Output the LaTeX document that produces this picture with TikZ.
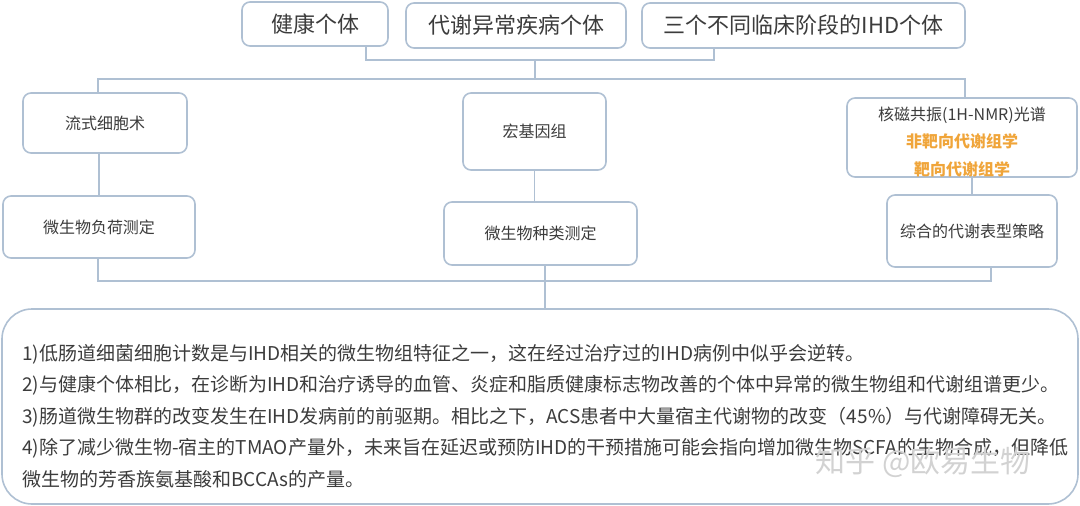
\documentclass[tikz,border=0pt]{standalone}
\usepackage{fontspec}
\setmainfont{Noto Sans CJK SC}
\definecolor{lineblue}{HTML}{AFC0D3}
\definecolor{txtgray}{HTML}{3C3C3C}
\definecolor{hlorange}{HTML}{F0A53A}
\begin{document}
\begin{tikzpicture}[x=1pt,y=-1pt,
  box/.style={draw=lineblue,line width=1.6pt,rounded corners=8pt,fill=white,text=txtgray,inner sep=0pt,align=center},
  wire/.style={draw=lineblue,line width=1.6pt},
  big/.style={font=\fontsize{22}{26}\selectfont},
  mid/.style={font=\fontsize{16}{27.5}\selectfont}]
\useasboundingbox (0,0) rectangle (1080,506);
% groups of subjects
\node[box,big,minimum width=146pt,minimum height=44pt] (hlt) at (315,24) {健康个体};
\node[box,big,minimum width=220pt,minimum height=45pt] (met) at (516,25.5) {代谢异常疾病个体};
\node[box,big,minimum width=323pt,minimum height=45pt] (ihd) at (803.5,25.5) {三个不同临床阶段的IHD个体};
% methods
\node[box,mid,minimum width=164pt,minimum height=60pt] (flow) at (105,123) {流式细胞术};
\node[box,mid,minimum width=143pt,minimum height=77pt] (meta) at (534.5,131.5) {宏基因组};
\node[box,mid,minimum width=230pt,minimum height=79pt] (nmr) at (962,137.5)
  {\rule{0pt}{22pt}核磁共振(1H-NMR)光谱\\ \textcolor{hlorange}{\bfseries 非靶向代谢组学}\\ \textcolor{hlorange}{\bfseries 靶向代谢组学}};
\node[box,mid,minimum width=192pt,minimum height=62pt] (load) at (99,227) {微生物负荷测定};
\node[box,mid,minimum width=193pt,minimum height=63pt] (kind) at (540.5,233.5) {微生物种类测定};
\node[box,mid,minimum width=170pt,minimum height=72pt] (integ) at (972,231) {综合的代谢表型策略};
% findings
\node[draw=lineblue,line width=1.6pt,rounded corners=30pt,minimum width=1076pt,minimum height=195pt,inner sep=0pt] (notes) at (540,406.5) {};
\node[anchor=north west,align=left,inner sep=0pt,text=txtgray,font=\fontsize{19}{31.5}\selectfont] (notetext) at (22,344)
  {1)低肠道细菌细胞计数是与IHD相关的微生物组特征之一，这在经过治疗过的IHD病例中似乎会逆转。\\
   2)与健康个体相比，在诊断为IHD和治疗诱导的血管、炎症和脂质健康标志物改善的个体中异常的微生物组和代谢组谱更少。\\
   3)肠道微生物群的改变发生在IHD发病前的前驱期。相比之下，ACS患者中大量宿主代谢物的改变（45\%）与代谢障碍无关。\\
   4)除了减少微生物-宿主的TMAO产量外，未来旨在延迟或预防IHD的干预措施可能会指向增加微生物SCFA的生物合成，但降低\\
   微生物的芳香族氨基酸和BCCAs的产量。};
\node[text=gray!35,font=\fontsize{30}{30}\selectfont] (mark) at (923,462) {知乎 @欧易生物};
% connectors
\coordinate (bl) at (366,60); \coordinate (br) at (714,60);
\coordinate (bm) at (535,60); \coordinate (tm) at (535,79);
\coordinate (tl) at (98,79); \coordinate (tr) at (965,79);
\coordinate (dl) at (98,281); \coordinate (dr) at (991,281);
\coordinate (dm) at (545,281);
\draw[wire] (hlt.south -| bl) -- (bl) -- (br) -- (ihd.south -| br);
\draw[wire] (bm) -- (tm);
\draw[wire] (flow.north -| tl) -- (tl) -- (tr) -- (nmr.north -| tr);
\draw[wire] (flow.south -| load) -- (load.north);
\draw[wire] (meta.south) -- (meta.south |- kind.north);
\draw[wire] (nmr.south -| integ) -- (integ.north);
\draw[wire] (load.south -| dl) -- (dl) -- (dr) -- (integ.south -| dr);
\draw[wire] (kind.south -| dm) -- (notes.north -| dm);
\end{tikzpicture}
\end{document}
